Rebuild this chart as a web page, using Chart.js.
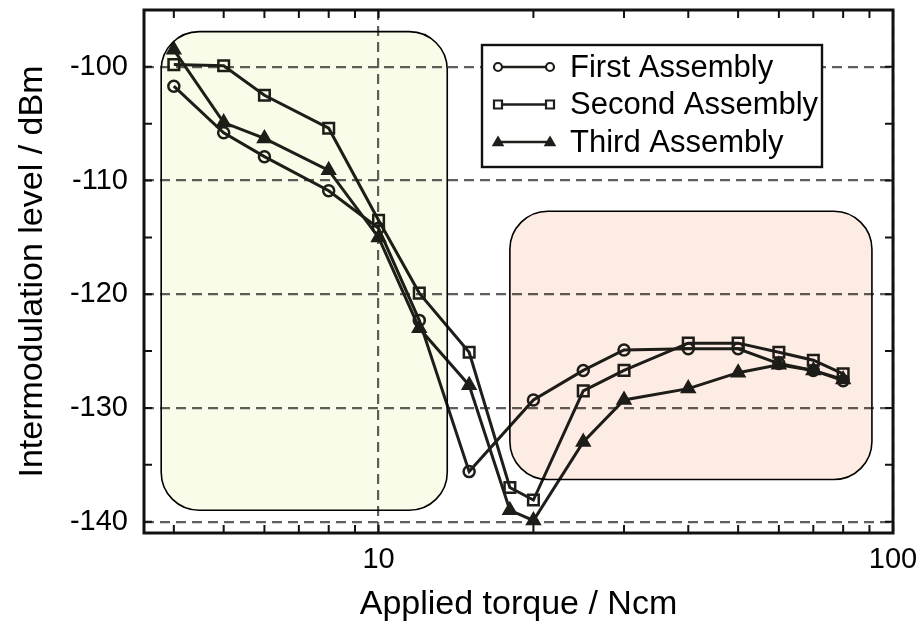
<!DOCTYPE html>
<html lang="en">
<head>
<meta charset="UTF-8">
<title>Intermodulation level vs applied torque</title>
<style>
  body { margin: 0; background: #fff; }
  canvas { display: block; }
</style>
</head>
<body>
<canvas id="imChart" width="923" height="625"></canvas>
<script src="https://cdn.jsdelivr.net/npm/chart.js"></script>
<script>
// torque steps (Ncm) and measured intermodulation levels (dBm)
const torque = [4, 5, 6, 8, 10, 12, 15, 18, 20, 25, 30, 40, 50, 60, 70, 80];
const firstAssembly  = [-101.7, -105.8, -107.9, -110.9, -114.2, -122.3, -135.6, null, -129.3, -126.7, -124.9, -124.8, -124.8, -126.1, -126.7, -127.6];
const secondAssembly = [-99.8, -99.9, -102.5, -105.4, -113.5, -119.9, -125.1, -137.0, -138.1, -128.5, -126.7, -124.3, -124.3, -125.1, -125.8, -127.0];
const thirdAssembly  = [-98.5, -104.9, -106.3, -109.1, -115.0, -123.0, -128.0, -139.0, -139.9, -133.0, -129.3, -128.3, -126.9, -126.2, -126.7, -127.5];

const seriesNames = ['First Assembly', 'Second Assembly', 'Third Assembly'];
const xTickLabels = [10, 100];
const yTickLabels = [-140, -130, -120, -110, -100];
const xTickMarks = [4, 5, 6, 7, 8, 9, 10, 20, 30, 40, 50, 60, 70, 80, 90];
const yTickMarks = [-140, -135, -130, -125, -120, -115, -110, -105, -100];

// shaded regions: [xFrom, xTo], [yFrom, yTo]
const regionX = [[3.78, 13.6], [18.0, 91]];
const regionY = [[-139.0, -96.9], [-136.3, -112.7]];
const regionColors = ['#f8fce9', '#fdece3'];

const lineColor = '#1e1e1a';
const fontFamily = '"Liberation Sans", Arial, Helvetica, sans-serif';

function toPoints(vals) {
    return torque.map((t, i) => ({ x: t, y: vals[i] })).filter(p => p.y !== null);
}

// rounded boxes laid over the plot (multiply so lines and grid stay visible)
const regionPlugin = {
    id: 'regions',
    afterDatasetsDraw(chart) {
        const { ctx, scales: { x, y } } = chart;
        ctx.save();
        regionX.forEach((rx, i) => {
            const x1 = x.getPixelForValue(rx[0]);
            const x2 = x.getPixelForValue(rx[1]);
            const y1 = y.getPixelForValue(regionY[i][1]);
            const y2 = y.getPixelForValue(regionY[i][0]);
            ctx.beginPath();
            ctx.roundRect(x1, y1, x2 - x1, y2 - y1, 38);
            ctx.globalCompositeOperation = 'multiply';
            ctx.fillStyle = regionColors[i];
            ctx.fill();
            ctx.globalCompositeOperation = 'source-over';
            ctx.lineWidth = 1.6;
            ctx.strokeStyle = '#000';
            ctx.stroke();
        });
        ctx.restore();
    }
};

// frame with inward tick marks on all four sides
const framePlugin = {
    id: 'frame',
    afterDraw(chart) {
        const { ctx, chartArea: a, scales: { x, y } } = chart;
        const len = 8;
        ctx.save();
        ctx.strokeStyle = '#111';
        ctx.lineWidth = 2;
        ctx.beginPath();
        xTickMarks.forEach(v => {
            const px = x.getPixelForValue(v);
            ctx.moveTo(px, a.bottom); ctx.lineTo(px, a.bottom - len);
            ctx.moveTo(px, a.top); ctx.lineTo(px, a.top + len);
        });
        yTickMarks.forEach(v => {
            const py = y.getPixelForValue(v);
            ctx.moveTo(a.left, py); ctx.lineTo(a.left + len, py);
            ctx.moveTo(a.right, py); ctx.lineTo(a.right - len, py);
        });
        ctx.stroke();
        ctx.lineWidth = 3;
        ctx.strokeRect(a.left, a.top, a.right - a.left, a.bottom - a.top);
        ctx.restore();
    }
};

function drawMarker(ctx, style, cx, cy, r) {
    ctx.beginPath();
    if (style === 'circle') {
        ctx.arc(cx, cy, r, 0, Math.PI * 2);
        ctx.fillStyle = '#fff';
        ctx.fill();
        ctx.stroke();
    } else if (style === 'rect') {
        ctx.rect(cx - r, cy - r, 2 * r, 2 * r);
        ctx.fillStyle = '#fff';
        ctx.fill();
        ctx.stroke();
    } else {
        ctx.moveTo(cx, cy - r * 1.1);
        ctx.lineTo(cx + r * 1.1, cy + r * 0.8);
        ctx.lineTo(cx - r * 1.1, cy + r * 0.8);
        ctx.closePath();
        ctx.fillStyle = lineColor;
        ctx.fill();
        ctx.stroke();
    }
}

// legend box inside the plot, line sample with a marker at each end
const legendPlugin = {
    id: 'boxLegend',
    afterDraw(chart) {
        const { ctx, chartArea: a } = chart;
        const bx = a.left + 338, by = a.top + 35, bw = 340, bh = 122;
        ctx.save();
        ctx.fillStyle = '#fff';
        ctx.fillRect(bx, by, bw, bh);
        ctx.lineWidth = 2.4;
        ctx.strokeStyle = '#111';
        ctx.strokeRect(bx, by, bw, bh);
        ctx.font = '31px ' + fontFamily;
        ctx.textBaseline = 'middle';
        chart.data.datasets.forEach((ds, i) => {
            const ry = by + 22 + i * 37.5;
            ctx.strokeStyle = lineColor;
            ctx.lineWidth = 2.6;
            ctx.beginPath();
            ctx.moveTo(bx + 16, ry); ctx.lineTo(bx + 68, ry);
            ctx.stroke();
            ctx.lineWidth = 2.2;
            drawMarker(ctx, ds.pointStyle, bx + 16, ry, 4);
            drawMarker(ctx, ds.pointStyle, bx + 68, ry, 4);
            ctx.fillStyle = '#000';
            ctx.fillText(ds.label, bx + 88, ry + 1);
        });
        ctx.restore();
    }
};

const baseSet = {
    borderColor: lineColor,
    borderWidth: 3,
    pointBorderColor: lineColor,
    pointBorderWidth: 2.5,
    spanGaps: true,
    tension: 0
};

const ctx = document.getElementById('imChart').getContext('2d');
const imChart = new Chart(ctx, {
    type: 'line',
    data: {
        datasets: [
            Object.assign({}, baseSet, {
                label: seriesNames[0],
                data: toPoints(firstAssembly),
                pointStyle: 'circle',
                pointRadius: 5.5,
                pointBackgroundColor: 'rgba(255,255,255,0)'
            }),
            Object.assign({}, baseSet, {
                label: seriesNames[1],
                data: toPoints(secondAssembly),
                pointStyle: 'rect',
                pointRadius: 7.5,
                pointBackgroundColor: 'rgba(255,255,255,0)'
            }),
            Object.assign({}, baseSet, {
                label: seriesNames[2],
                data: toPoints(thirdAssembly),
                pointStyle: 'triangle',
                pointRadius: 7,
                pointBackgroundColor: lineColor
            })
        ]
    },
    options: {
        responsive: false,
        animation: false,
        layout: { padding: { left: 0, right: 30, top: 10, bottom: 0 } },
        plugins: {
            legend: { display: false },
            tooltip: { enabled: false }
        },
        scales: {
            x: {
                type: 'logarithmic',
                min: 3.5,
                max: 100,
                afterBuildTicks: s => { s.ticks = xTickLabels.map(v => ({ value: v })); },
                afterFit: s => { s.height = 92; s.paddingLeft = 0; s.paddingRight = 0; },
                ticks: {
                    font: { family: fontFamily, size: 29 },
                    color: '#000',
                    padding: 10,
                    maxRotation: 0,
                    autoSkip: false,
                    callback: v => String(v)
                },
                grid: { color: '#5e5e5e', lineWidth: 2.2, drawTicks: false },
                border: { display: false, dash: [10, 6] },
                title: {
                    display: true,
                    text: 'Applied torque / Ncm',
                    font: { family: fontFamily, size: 34 },
                    color: '#000',
                    padding: { top: 0, bottom: 0 }
                }
            },
            y: {
                min: -141,
                max: -95,
                afterBuildTicks: s => { s.ticks = yTickLabels.map(v => ({ value: v })); },
                afterFit: s => { s.width = 144; s.paddingTop = 0; s.paddingBottom = 0; },
                ticks: {
                    font: { family: fontFamily, size: 29 },
                    color: '#000',
                    padding: 16,
                    callback: v => String(v)
                },
                grid: { color: '#5e5e5e', lineWidth: 2.2, drawTicks: false },
                border: { display: false, dash: [10, 6] },
                title: {
                    display: true,
                    text: 'Intermodulation level / dBm',
                    font: { family: fontFamily, size: 34 },
                    color: '#000',
                    padding: { top: 12, bottom: 0 }
                }
            }
        }
    },
    plugins: [regionPlugin, framePlugin, legendPlugin]
});
</script>
</body>
</html>
